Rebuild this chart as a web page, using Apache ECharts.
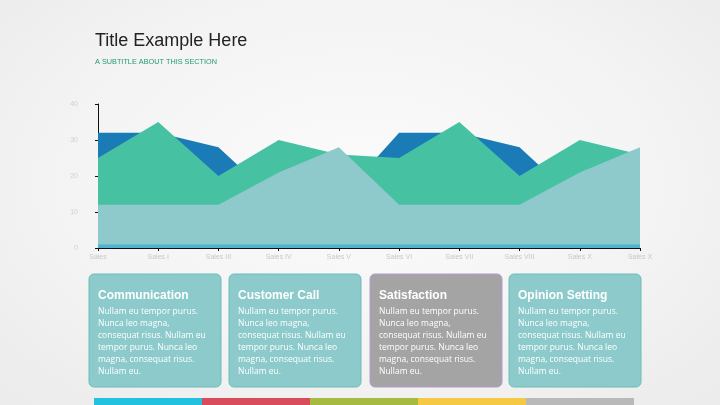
<!DOCTYPE html>
<html><head><meta charset="utf-8">
<script src="https://cdn.jsdelivr.net/npm/echarts@6/dist/echarts.min.js"></script>
<style>
html,body{margin:0;padding:0;width:720px;height:405px;overflow:hidden;}
body{background:radial-gradient(ellipse at 50% 45%, #fbfbfb 0%, #f4f4f4 55%, #ebebeb 100%);}
#c{width:720px;height:405px;}
</style></head>
<body><div id="c"></div>
<script>
const categories = ["Sales", "Sales I", "Sales III", "Sales IV", "Sales V", "Sales VI", "Sales VII", "Sales VIII", "Sales X", "Sales X"];
const seriesBlue  = [32, 32, 28, 12.5, 13.5, 32, 32, 28, 12.5, 13.5];
const seriesGreen = [25, 35, 20, 30, 26, 25, 35, 20, 30, 26];
const seriesLight = [12, 12, 12, 21, 28, 12, 12, 12, 21, 28];
const seriesBase  = [1, 1, 1, 1, 1, 1, 1, 1, 1, 1];
const yTicks = [0, 10, 20, 30, 40];

const cardTitles = ["Communication", "Customer Call", "Satisfaction", "Opinion Setting"];
const cardText = "Nullam eu tempor purus.\nNunca leo magna,\nconsequat risus. Nullam eu\ntempor purus. Nunca leo\nmagna, consequat risus.\nNullam eu.";
const stripColors = ["#22c1df", "#d94c5c", "#a6b940", "#f5c944", "#b9b9b9"];

const chart = echarts.init(document.getElementById('c'), null, {renderer:'canvas'});

const cardX = [89, 229, 370, 509];
const cardFill = ["#8dcacb", "#8dcacb", "#a4a4a4", "#8dcacb"];
const cardStroke = ["#6cbdb8", "#6cbdb8", "#b39ad0", "#6cbdb8"];
const graphics = [
  {type:'text', left:95, top:32, style:{text:'Title Example Here', font:'18px "Liberation Sans", Arial, sans-serif', fill:'#222'}},
  {type:'text', left:95, top:58, style:{text:'A SUBTITLE ABOUT THIS SECTION', font:'7.3px "Liberation Sans", Arial, sans-serif', fill:'#1f9b70'}}
];
cardX.forEach((x,i)=>{
  graphics.push({type:'rect', shape:{x:x, y:274, width:132, height:113, r:5}, style:{fill:cardFill[i], stroke:cardStroke[i], lineWidth:1}});
  graphics.push({type:'text', x:x+9, y:290, style:{text:cardTitles[i], font:'bold 12px "Liberation Sans", Arial, sans-serif', fill:'#ffffff'}});
  graphics.push({type:'text', x:x+9, y:306, style:{text:cardText, font:'8.5px "Open Sans", "DejaVu Sans", sans-serif', fill:'#ffffff', lineHeight:12}});
});
stripColors.forEach((c,i)=>{
  graphics.push({type:'rect', shape:{x:94+i*108, y:398, width:108, height:7}, style:{fill:c}});
});

chart.setOption({
  animation:false,
  grid:{left:98, right:80, top:104, bottom:157},
  xAxis:{type:'category', data:categories, boundaryGap:false,
    axisLine:{lineStyle:{color:'#111', width:1}}, axisTick:{show:true, length:3, lineStyle:{color:'#111'}},
    axisLabel:{color:'#c8c8c8', fontSize:7, margin:6, interval:0}},
  yAxis:{type:'value', min:0, max:40, interval:10,
    axisLine:{show:true, lineStyle:{color:'#111', width:1}}, axisTick:{show:true, length:3, lineStyle:{color:'#111'}},
    splitLine:{show:false},
    axisLabel:{color:'#d0d0d0', fontSize:7, margin:20, formatter:v=>yTicks.includes(v)?String(v):''}},
  series:[
    {type:'line', data:seriesBlue, symbol:'none', lineStyle:{width:0}, areaStyle:{color:'#1a7bb6', opacity:1}, z:1},
    {type:'line', data:seriesGreen, symbol:'none', lineStyle:{width:0}, areaStyle:{color:'#46c2a3', opacity:1}, z:2},
    {type:'line', data:seriesLight, symbol:'none', lineStyle:{width:0}, areaStyle:{color:'#8ec9cb', opacity:1}, z:3},
    {type:'line', data:seriesBase, symbol:'none', lineStyle:{width:0}, areaStyle:{color:'#4fb3d1', opacity:1}, z:4}
  ],
  graphic:graphics
});
</script>
</body></html>
